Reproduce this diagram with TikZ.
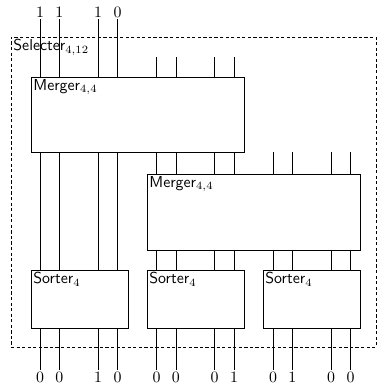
\documentclass[tikz,border=0pt]{standalone}
\usetikzlibrary{positioning,fit}
\begin{document}
\begin{tikzpicture}[x=0.63pt, y=-0.63pt,
    box/.style={draw, inner sep=0pt},
    lbl/.style={anchor=north west, inner sep=1.5pt, font=\sffamily},
    bit/.style={inner sep=1pt}]
  \useasboundingbox (0,0) rectangle (380,385);
  % wire positions, four per sorter
  \foreach \g [count=\k] in {40,156.5,273} {
    \foreach \d [count=\j] in {0,19.4,58.2,77.6} {
      \pgfmathtruncatemacro\n{(\k-1)*4+\j}
      \coordinate (w\n) at (\g+\d,0);
    }
  }
  % boxes
  \node[draw, dash pattern=on 2pt off 1.5pt, inner sep=0pt, fit={(11,37) (376,347)}] (sel) {};
  \node[lbl] (selname) at (sel.north west) {Selecter$_{4,12}$};
  \node[box, fit={(31,77) (244,152)}] (m1) {};
  \node[lbl] (m1name) at (m1.north west) {Merger$_{4,4}$};
  \node[box, fit={(147,174) (360,250)}] (m2) {};
  \node[lbl] (m2name) at (m2.north west) {Merger$_{4,4}$};
  \foreach \s/\x in {1/31,2/147,3/263} {
    \node[box, fit={(\x,270) (\x+97,328)}] (s\s) {};
    \node[lbl] (s\s name) at (s\s.north west) {Sorter$_4$};
  }
  % inputs and outputs
  \foreach \v [count=\i] in {1,1,1,0}
    \node[bit] (t\i) at (w\i |- 0,12) {$\v$};
  \foreach \v [count=\i] in {0,0,1,0,0,0,0,1,0,1,0,0}
    \node[bit] (b\i) at (w\i |- 0,377) {$\v$};
  % wires
  \foreach \i in {1,...,4} {
    \draw (t\i.south) -- (w\i |- m1.north);
    \draw (w\i |- m1.south) -- (w\i |- s1.north);
  }
  \foreach \i in {5,...,8} {
    \draw (w\i |- 0,57) -- (w\i |- m1.north);
    \draw (w\i |- m1.south) -- (w\i |- m2.north);
    \draw (w\i |- m2.south) -- (w\i |- s2.north);
  }
  \foreach \i in {9,...,12} {
    \draw (w\i |- m1.south) -- (w\i |- m2.north);
    \draw (w\i |- m2.south) -- (w\i |- s3.north);
  }
  \foreach \i in {1,...,12}
    \draw (w\i |- s1.south) -- (b\i.north);
\end{tikzpicture}
\end{document}
